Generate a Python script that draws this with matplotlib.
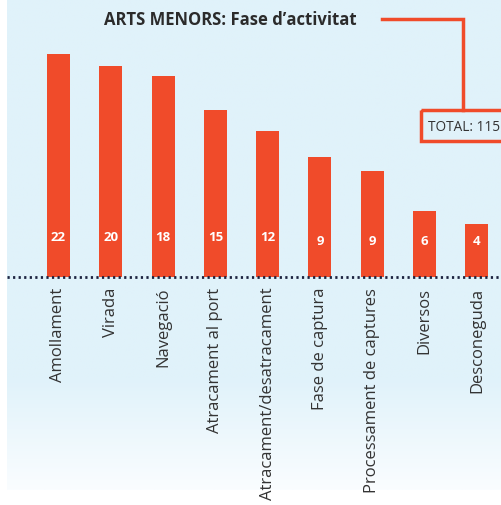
import numpy as np
import matplotlib
matplotlib.use("Agg")
import matplotlib.pyplot as plt
from matplotlib.patches import Rectangle

categories = ["Amollament", "Virada", "Navegació", "Atracament al port",
              "Atracament/desatracament", "Fase de captura",
              "Processament de captures", "Diversos", "Desconeguda"]
bar_heights = [223, 211, 201, 167, 146, 120, 106, 66, 53]
value_labels = [22, 20, 18, 15, 12, 9, 9, 6, 4]
title = "ARTS MENORS: Fase d\u2019activitat"
total_label = "TOTAL: 115"

W, H = 502, 506
fig = plt.figure(figsize=(W / 100, H / 100), dpi=100)
fig.patch.set_facecolor("white")

# background panel with gradient
bg = fig.add_axes([0, 0, 1, 1])
bg.set_xlim(0, W)
bg.set_ylim(H, 0)
bg.axis("off")
top_col = np.array([0xE0, 0xF2, 0xFA]) / 255.0
bot_col = np.array([0xFA, 0xFD, 0xFF]) / 255.0
ny = 200
t = np.linspace(0, 1, ny)
frac = np.clip((t * 491 - 380) / (491 - 380), 0, 1)
grad = top_col[None, :] * (1 - frac[:, None]) + bot_col[None, :] * frac[:, None]
img = np.repeat(grad[:, None, :], 2, axis=1)
bg.imshow(img, extent=[7, W, 491, 0], aspect="auto", interpolation="bilinear")

# main axes
spacing = 52.3
x0 = 58.5
base = 277.7
ax = fig.add_axes([0, 0, 1, 1])
ax.set_xlim(-x0 / spacing, (W - x0) / spacing)
ax.set_ylim(-(H - base), base)
ax.axis("off")
ax.patch.set_alpha(0)

red = "#F04B2A"
xs = np.arange(len(categories))
ax.bar(xs, bar_heights, width=23 / spacing, color=red, zorder=2)

for x, v in zip(xs, value_labels):
    yv = 40 if v >= 10 else 36
    ax.text(x, yv, str(v), color="white", fontsize=9.5, fontweight="bold",
            ha="center", va="center", family="Open Sans", zorder=3)

for x, c in zip(xs, categories):
    ax.text(x, -10, c, rotation=90, ha="center", va="top", fontsize=12,
            color="#333333", family="Open Sans", zorder=3)

ax.plot([-x0 / spacing + 7 / spacing, (W - x0) / spacing], [0, 0],
        color="#1C2340", lw=2.0, linestyle=(0, (0.8, 1.2)), zorder=4)

# title and total annotation (figure pixel coordinates on bg axes)
bg.text(230, 20, title, ha="center", va="center", fontsize=12,
        fontweight="bold", color="#2B2B2B", family="Open Sans", zorder=5)
bg.plot([382, 463, 463], [20, 20, 111], color=red, lw=2.5, zorder=5,
        solid_joinstyle="miter")
bg.add_patch(Rectangle((421, 111), 90, 31, facecolor="none", edgecolor=red,
                       lw=2.5, zorder=5))
bg.text(428, 127, total_label, ha="left", va="center", fontsize=9.8,
        color="#333333", family="Open Sans", zorder=5)

fig.savefig("out.png", dpi=100)
